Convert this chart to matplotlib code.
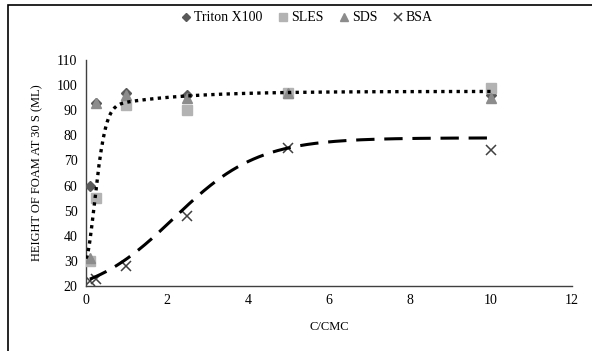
import numpy as np
import matplotlib
matplotlib.use("Agg")
import matplotlib.pyplot as plt
from matplotlib.patches import Rectangle

plt.rcParams['font.family'] = ['Liberation Serif', 'DejaVu Serif']

# concentration relative to CMC
c_cmc = [0.1, 0.25, 1, 2.5, 5, 10]

# foam height after 30 s (mL)
triton = [60, 93, 97, 96, 97, 96]
sles = [30, 55, 92, 90, 97, 99]
sds = [31, 93, 96, 95, 97, 95]
bsa = [22, 23, 28, 48, 75, 74]

# trendline parameters, estimated from the chart
surf_top, surf_slow, surf_tau = 97.5, 7.6, 1.735      # slow approach to plateau
surf_start, surf_k, surf_p = 31.0, 2.97, 1.75        # fast initial rise
bsa_low, bsa_amp, bsa_k, bsa_x0 = 15.0, 64.0, 0.957, 2.17   # logistic

x = np.array(c_cmc)

xs_s = np.linspace(0, x.max(), 400)
slow = surf_top - surf_slow * np.exp(-xs_s / surf_tau)
surf_trend = slow - (slow[0] - surf_start) * np.exp(-(surf_k * xs_s) ** surf_p)

xs_b = np.linspace(x.min(), x.max(), 300)
bsa_trend = bsa_low + bsa_amp / (1 + np.exp(-bsa_k * (xs_b - bsa_x0)))

fig = plt.figure(figsize=(5.92, 3.51), dpi=100)
ax = fig.add_axes([0.145, 0.185, 0.821, 0.644])

ax.plot(x, triton, 'D', color='#595959', ms=5.5, label='Triton X100', zorder=3)
ax.plot(x, sles, 's', color='#b3b3b3', ms=7.5, label='SLES', zorder=3)
ax.plot(x, sds, '^', color='#8c8c8c', ms=7.5, label='SDS', zorder=3)
ax.plot(x, bsa, 'x', color='#404040', ms=6.5, mew=1.1, label='BSA', zorder=3)

ax.plot(xs_s, surf_trend, color='black', lw=2.4, linestyle=(0, (1, 1.3)), zorder=4)
ax.plot(xs_b, bsa_trend, color='black', lw=2.2, linestyle=(0, (6, 3.2)), zorder=4)

ax.set_xlim(0, 12)
ax.set_ylim(20, 110)
ax.set_xticks(range(0, 13, 2))
ax.set_yticks(range(20, 111, 10))
ax.tick_params(length=0, labelsize=10, pad=6)
for s in ['top', 'right']:
    ax.spines[s].set_visible(False)
for s in ['left', 'bottom']:
    ax.spines[s].set_color('#404040')
    ax.spines[s].set_linewidth(1)

ax.set_xlabel('C/CMC', fontsize=9, labelpad=10)
ax.set_ylabel('HEIGHT OF FOAM AT 30 S (ML)', fontsize=9, labelpad=10)

fig.legend(loc='center', bbox_to_anchor=(0.517, 0.949), ncol=4, frameon=False,
           fontsize=10, handletextpad=0.05, columnspacing=1.0, handlelength=1.0,
           markerscale=0.8)

# outer chart frame
fig.add_artist(Rectangle((8 / 592, -0.1), 1.2, 1 - 5 / 351 + 0.1,
                         transform=fig.transFigure, fill=False,
                         edgecolor='black', lw=1.2))

fig.savefig('out.png', dpi=100)
